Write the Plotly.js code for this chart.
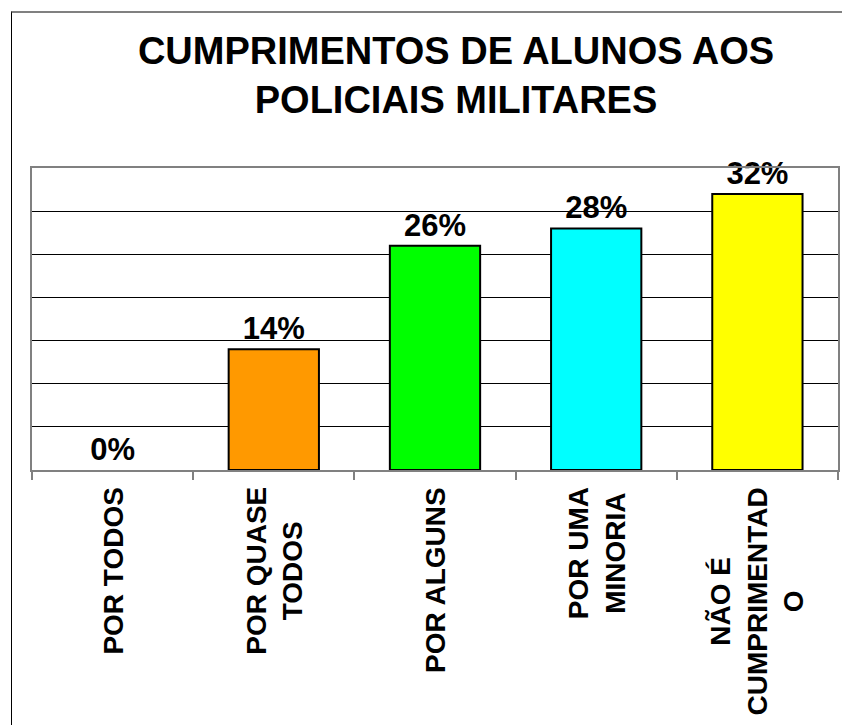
<!DOCTYPE html>
<html>
<head>
<meta charset="utf-8">
<script src="https://cdn.plot.ly/plotly-3.0.1.min.js"></script>
<style>
  html, body { margin: 0; padding: 0; background: #ffffff; }
  #wrap { position: relative; width: 842px; height: 725px; overflow: hidden; }
  #chart { position: absolute; left: 0; top: 0; width: 842px; height: 725px; }
  #frame { position: absolute; left: 11px; top: 11px; width: 900px; height: 900px;
           border-left: 1px solid #000000; border-top: 2px solid #808080; pointer-events: none; }
</style>
</head>
<body>
<div id="wrap">
  <div id="chart"></div>
  <div id="frame"></div>
</div>
<script>
const categories = [
  "POR TODOS",
  "POR QUASE<br>TODOS",
  "POR ALGUNS",
  "POR UMA<br>MINORIA",
  "NÃO É<br>CUMPRIMENTAD<br>O"
];
const values = [0, 14, 26, 28, 32];
const barColors = ["#9999FF", "#FF9900", "#00FF00", "#00FFFF", "#FFFF00"];
const titleText = "CUMPRIMENTOS DE ALUNOS AOS<br>POLICIAIS MILITARES";

const FONT = "Liberation Sans, Arial, sans-serif";

const trace = {
  type: "bar",
  x: categories,
  y: values,
  marker: {
    color: barColors,
    line: { color: "#000000", width: values.map(v => (v === 0 ? 0 : 2)) }
  },
  text: values.map(v => v + "%"),
  textposition: "outside",
  textfont: { family: FONT, size: 31, color: "#000000", weight: "bold" },
  constraintext: "none",
  cliponaxis: false,
  hoverinfo: "x+y"
};

// Category labels drawn under the axis, rotated, with centred lines
const labelAnnotations = categories.map(c => ({
  x: c,
  xref: "x",
  y: 0,
  yref: "paper",
  yanchor: "top",
  xanchor: "center",
  yshift: -16,
  text: c,
  textangle: -90,
  align: "center",
  showarrow: false,
  borderpad: 0,
  font: { family: FONT, size: 28, color: "#000000", weight: "bold" }
}));

const layout = {
  width: 842,
  height: 725,
  margin: { l: 32, r: 4, t: 168, b: 255 },
  paper_bgcolor: "#ffffff",
  plot_bgcolor: "#ffffff",
  bargap: 0.44,
  showlegend: false,
  font: { family: FONT, color: "#000000" },
  title: {
    text: titleText,
    font: { family: FONT, size: 38, color: "#000000", weight: "bold" },
    xref: "container",
    x: 456 / 842,
    xanchor: "center",
    yref: "container",
    y: 1 - 64 / 725,
    yanchor: "top"
  },
  xaxis: {
    type: "category",
    showline: true,
    linecolor: "#808080",
    linewidth: 2,
    mirror: true,
    ticks: "outside",
    tickson: "boundaries",
    ticklen: 8,
    tickwidth: 2,
    tickcolor: "#808080",
    showticklabels: false,
    showgrid: false,
    zeroline: false
  },
  yaxis: {
    range: [0, 35],
    dtick: 5,
    showgrid: true,
    gridcolor: "#000000",
    gridwidth: 1,
    showline: true,
    linecolor: "#808080",
    linewidth: 2,
    mirror: true,
    ticks: "",
    showticklabels: false,
    zeroline: false,
    fixedrange: true
  },
  annotations: labelAnnotations
};

Plotly.newPlot("chart", [trace], layout, { displayModeBar: false, staticPlot: true });
</script>
</body>
</html>
